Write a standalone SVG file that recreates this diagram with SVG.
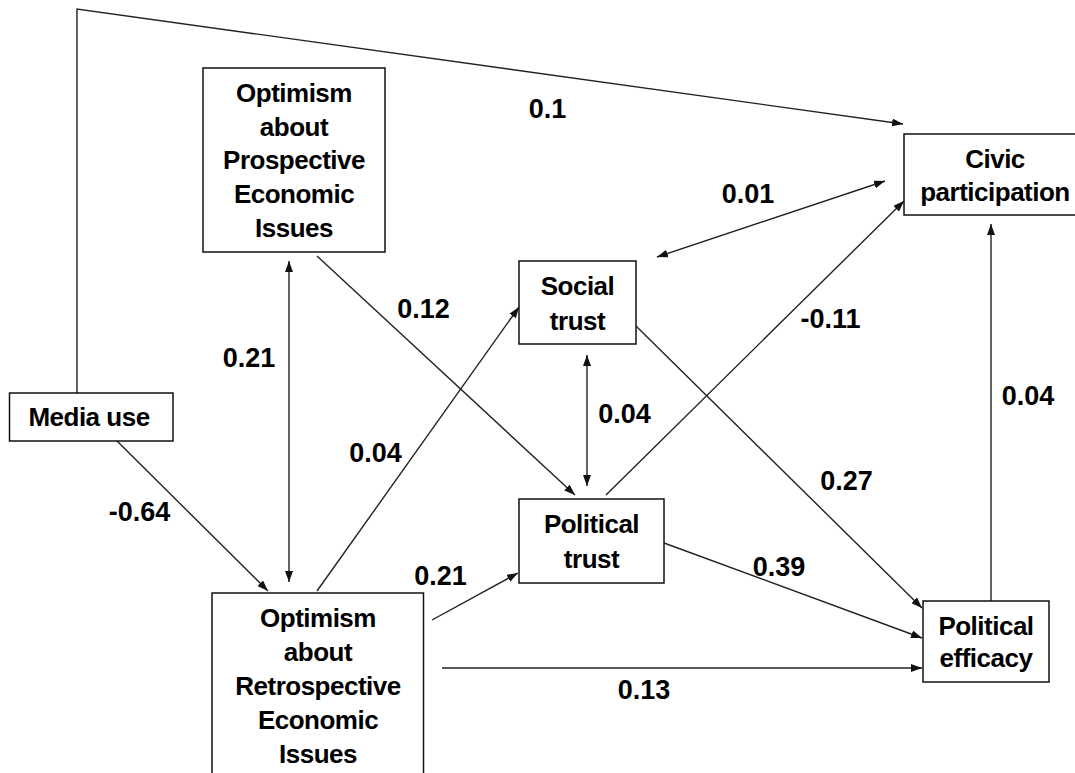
<svg xmlns="http://www.w3.org/2000/svg" width="1075" height="773" viewBox="0 0 1075 773">
<defs>
<style>
.box{fill:#fff;stroke:#111;stroke-width:1.5}
.t{font-family:"Liberation Sans",Arial,sans-serif;font-weight:bold;font-size:26px;fill:#000;text-anchor:middle;letter-spacing:-0.5px}
.lbl{font-family:"Liberation Sans",Arial,sans-serif;font-weight:bold;font-size:27px;fill:#000;text-anchor:middle}
.c{fill:none;stroke:#222;stroke-width:1.4}
</style>
<marker id="ah" markerUnits="userSpaceOnUse" markerWidth="11" markerHeight="8" refX="11" refY="4" orient="auto-start-reverse">
<path d="M0,0 L11,4 L0,8 z" fill="#111"/>
</marker>
</defs>
<rect width="1075" height="773" fill="#fff"/>
<g id="connectors">
<polyline class="c" points="77,393 77,9 903,124" marker-end="url(#ah)"/>
<line class="c" x1="115" y1="439" x2="268" y2="591" marker-end="url(#ah)"/>
<line class="c" x1="289" y1="261" x2="289" y2="582" marker-start="url(#ah)" marker-end="url(#ah)"/>
<line class="c" x1="317" y1="256" x2="575" y2="495" marker-end="url(#ah)"/>
<line class="c" x1="317" y1="591" x2="519" y2="307" marker-end="url(#ah)"/>
<line class="c" x1="587" y1="355" x2="587" y2="486" marker-start="url(#ah)" marker-end="url(#ah)"/>
<line class="c" x1="606" y1="495" x2="904" y2="201" marker-end="url(#ah)"/>
<line class="c" x1="657" y1="257" x2="885" y2="181" marker-start="url(#ah)" marker-end="url(#ah)"/>
<line class="c" x1="636" y1="326" x2="922" y2="608" marker-end="url(#ah)"/>
<line class="c" x1="664" y1="543" x2="922" y2="638" marker-end="url(#ah)"/>
<line class="c" x1="442" y1="668" x2="922" y2="668" marker-end="url(#ah)"/>
<line class="c" x1="432" y1="620" x2="518" y2="573" marker-end="url(#ah)"/>
<line class="c" x1="991" y1="601" x2="991" y2="224" marker-end="url(#ah)"/>
</g>
<g id="labels">
<text class="lbl" x="547.5" y="118">0.1</text>
<text class="lbl" x="748" y="203">0.01</text>
<text class="lbl" x="830.5" y="328">-0.11</text>
<text class="lbl" x="624.5" y="423">0.04</text>
<text class="lbl" x="846.5" y="490">0.27</text>
<text class="lbl" x="1028" y="405">0.04</text>
<text class="lbl" x="779" y="576">0.39</text>
<text class="lbl" x="644" y="699">0.13</text>
<text class="lbl" x="423.5" y="318">0.12</text>
<text class="lbl" x="249" y="367">0.21</text>
<text class="lbl" x="139.5" y="521">-0.64</text>
<text class="lbl" x="375.5" y="462">0.04</text>
<text class="lbl" x="440.5" y="585">0.21</text>
</g>
<g id="media-use">
<rect class="box" x="9.5" y="393" width="163.5" height="48"/>
<text class="t" x="89" y="426">Media use</text>
</g>
<g id="prospective">
<rect class="box" x="203" y="68" width="182" height="184"/>
<text class="t" x="294" y="102">Optimism</text>
<text class="t" x="294" y="136">about</text>
<text class="t" x="294" y="169">Prospective</text>
<text class="t" x="294" y="203">Economic</text>
<text class="t" x="294" y="237">Issues</text>
</g>
<g id="retrospective">
<rect class="box" x="212" y="593" width="211.5" height="200"/>
<text class="t" x="318" y="627">Optimism</text>
<text class="t" x="318" y="661">about</text>
<text class="t" x="318" y="695">Retrospective</text>
<text class="t" x="318" y="729">Economic</text>
<text class="t" x="318" y="763">Issues</text>
</g>
<g id="social-trust">
<rect class="box" x="519" y="261" width="117" height="83"/>
<text class="t" x="577.5" y="295">Social</text>
<text class="t" x="577.5" y="330">trust</text>
</g>
<g id="political-trust">
<rect class="box" x="519" y="499" width="145" height="84"/>
<text class="t" x="591.5" y="533">Political</text>
<text class="t" x="591.5" y="568">trust</text>
</g>
<g id="civic-participation">
<rect class="box" x="904" y="134" width="180" height="81"/>
<text class="t" x="995" y="168">Civic</text>
<text class="t" x="995" y="201">participation</text>
</g>
<g id="political-efficacy">
<rect class="box" x="923" y="601" width="126" height="81"/>
<text class="t" x="986" y="635">Political</text>
<text class="t" x="986" y="667">efficacy</text>
</g>
</svg>
